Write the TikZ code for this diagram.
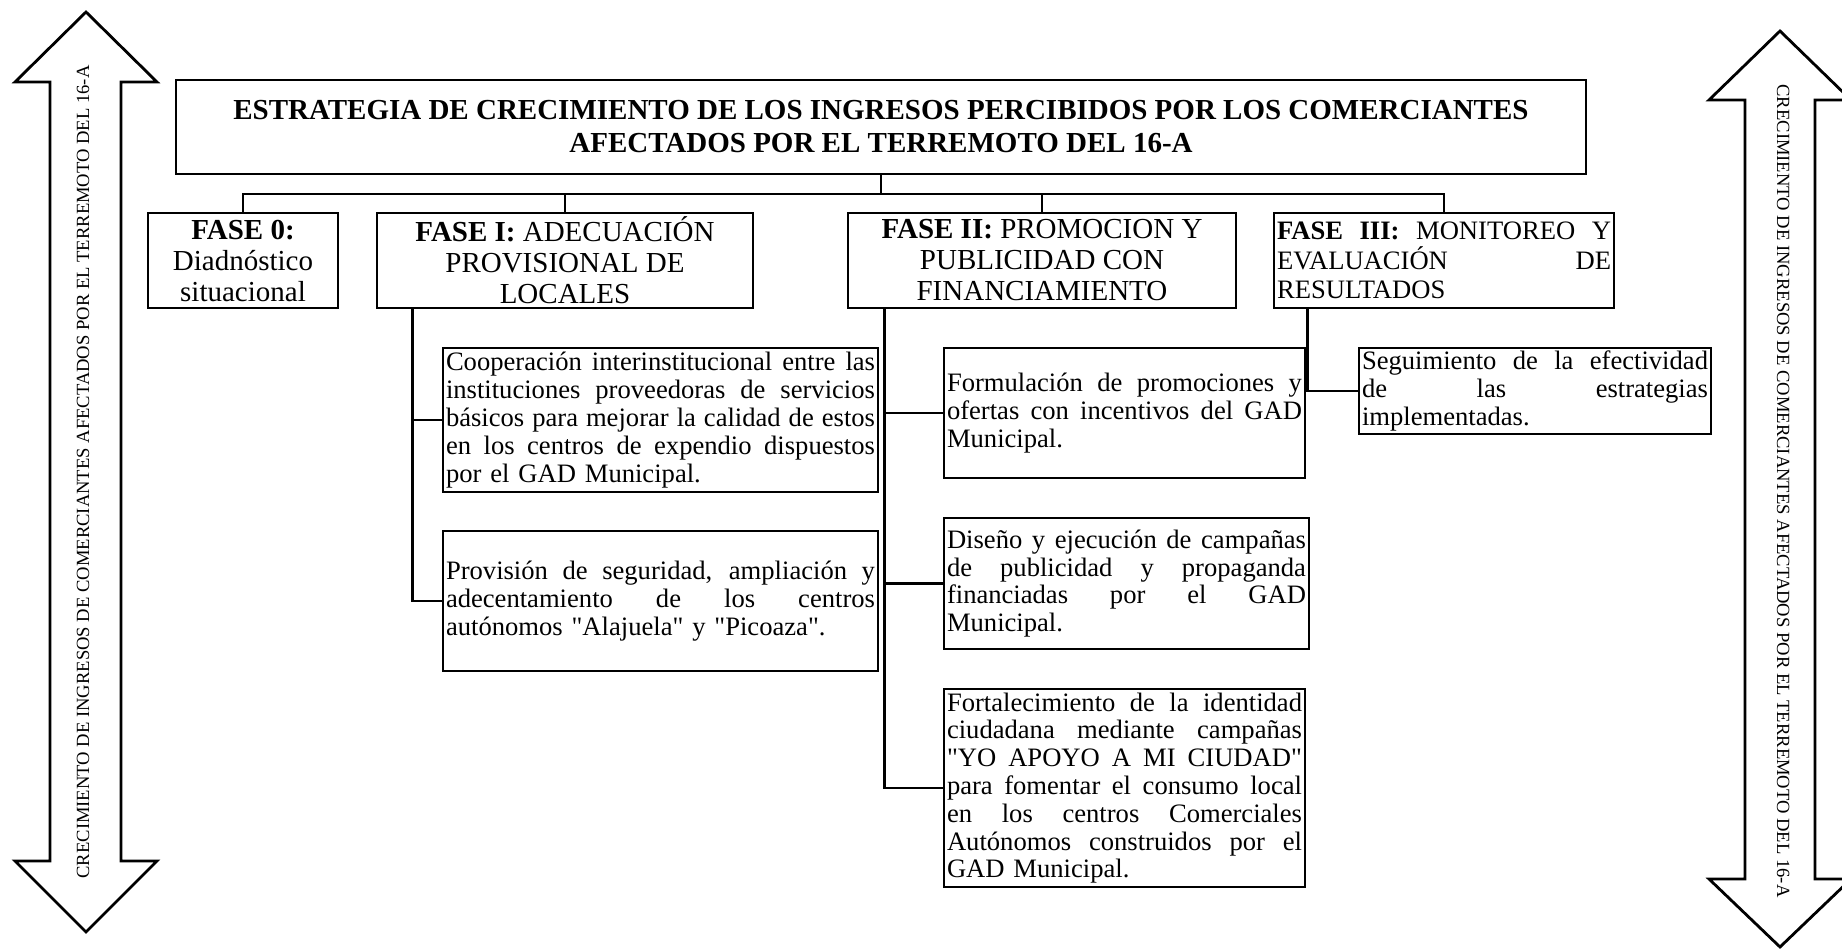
\documentclass[tikz,border=0pt]{standalone}
\usepackage{fontspec}
\setmainfont{Liberation Serif}
\newfontfamily\qfont{Liberation Serif}
\newcommand\jl[1]{\makebox[\linewidth][s]{\spaceskip=0pt\xspaceskip=0pt #1}}
\newcommand\dq{{\qfont"}}
\begin{document}
\begin{tikzpicture}[x=1pt,y=-1pt,line width=2.8pt,line join=miter,
  boxst/.style={draw,rectangle,line width=2.8pt,inner xsep=3pt,inner ysep=1pt,fill=white},
  titlest/.style={boxst,font=\fontsize{29}{33}\selectfont\bfseries,align=center,minimum width=1410pt,minimum height=94pt},
  fasest/.style={boxst,font=\fontsize{29}{31}\selectfont,align=center,minimum height=95pt},
  subst/.style={boxst,font=\fontsize{26.6}{27.8}\selectfont,align=left},
  arrowst/.style={draw,line width=2.8pt,fill=white},
  arrtext/.style={font=\fontsize{18.6}{22}\selectfont,inner sep=0pt,anchor=base},
  conn/.style={draw,line width=2.8pt}]
\useasboundingbox (0,0) rectangle (1842,949);
\clip (0,0) rectangle (1842,949);
\fill[white] (0,0) rectangle (1842,949);

% side arrows
\draw[arrowst] (86,12) -- (157,82) -- (121,82) -- (121,861) -- (157,861) -- (86,932) -- (15,861) -- (50,861) -- (50,82) -- (15,82) -- cycle;
\draw[arrowst] (1780,31) -- (1851,100) -- (1815,100) -- (1815,879) -- (1851,879) -- (1780,947) -- (1709,879) -- (1745,879) -- (1745,100) -- (1709,100) -- cycle;
\node[arrtext,rotate=90] (ltext) at (89,472) {CRECIMIENTO DE INGRESOS DE COMERCIANTES AFECTADOS POR EL TERREMOTO DEL 16-A};
\node[arrtext,rotate=-90] (rtext) at (1777,491) {CRECIMIENTO DE INGRESOS DE COMERCIANTES AFECTADOS POR EL TERREMOTO DEL 16-A};

% title
\node[titlest] (title) at (881,127) {ESTRATEGIA DE CRECIMIENTO DE LOS INGRESOS PERCIBIDOS POR LOS COMERCIANTES\\AFECTADOS POR EL TERREMOTO DEL 16-A};

% phases
\node[fasest,minimum width=190pt] (f0) at (243,260.5) {\textbf{FASE 0:}\\Diadnóstico\\situacional};
\node[fasest,minimum width=376pt] (f1) at (565,260.5) {\textbf{FASE I:} ADECUACIÓN\\PROVISIONAL DE\\LOCALES};
\node[fasest,minimum width=388pt] (f2) at (1042,260.5) {\textbf{FASE II:} PROMOCION Y\\PUBLICIDAD CON\\FINANCIAMIENTO};
\node[fasest,font=\fontsize{26.6}{29.5}\selectfont,align=left,text width=334pt,minimum height=95pt] (f3) at (1444,260.5) {\jl{\textbf{FASE III:} MONITOREO Y}\\\jl{EVALUACIÓN DE}\\RESULTADOS};

% sub boxes
\node[subst,text width=429pt,minimum height=144pt] (coop) at (660.5,420) {\jl{Cooperación interinstitucional entre las}\\\jl{instituciones proveedoras de servicios}\\\jl{básicos para mejorar la calidad de estos}\\\jl{en los centros de expendio dispuestos}\\por el GAD Municipal.};
\node[subst,text width=429pt,minimum height=140pt] (prov) at (660.5,601) {\jl{Provisión de seguridad, ampliación y}\\\jl{adecentamiento de los centros}\\autónomos \dq Alajuela\dq{} y \dq Picoaza\dq.};
\node[subst,text width=355pt,minimum height=130pt] (form) at (1124.5,413) {\jl{Formulación de promociones y}\\\jl{ofertas con incentivos del GAD}\\Municipal.};
\node[subst,text width=359pt,minimum height=131pt] (dise) at (1126.5,583.5) {\jl{Diseño y ejecución de campañas}\\\jl{de publicidad y propaganda}\\\jl{financiadas por el GAD}\\Municipal.};
\node[subst,text width=355pt,minimum height=198pt] (fort) at (1124.5,788) {\jl{Fortalecimiento de la identidad}\\\jl{ciudadana mediante campañas}\\\jl{\dq YO APOYO A MI CIUDAD\dq}\\\jl{para fomentar el consumo local}\\\jl{en los centros Comerciales}\\\jl{Autónomos construidos por el}\\GAD Municipal.};
\node[subst,text width=346pt,minimum height=86pt] (segu) at (1535,391) {\jl{Seguimiento de la efectividad}\\\jl{de las estrategias}\\implementadas.};

% connectors top
\coordinate (bar) at (881,194);
\draw[conn] (f0.north) -- (f0.north |- bar) -- (f3.north |- bar) -- (f3.north);
\draw[conn] (title.south) -- (title.south |- bar);
\draw[conn] (f1.north) -- (f1.north |- bar);
\draw[conn] (f2.north) -- (f2.north |- bar);

% branches
\coordinate (s1) at ([xshift=37pt]f1.south west);
\coordinate (s2) at ([xshift=38pt]f2.south west);
\coordinate (s3) at ([xshift=35pt]f3.south west);
\draw[conn] (s1) |- (prov.west);
\draw[conn] (s1 |- coop.west) -- (coop.west);
\draw[conn] (s2) |- (fort.west);
\draw[conn] (s2 |- form.west) -- (form.west);
\draw[conn] (s2 |- dise.west) -- (dise.west);
\draw[conn] (s3) |- (segu.west);
\end{tikzpicture}
\end{document}
